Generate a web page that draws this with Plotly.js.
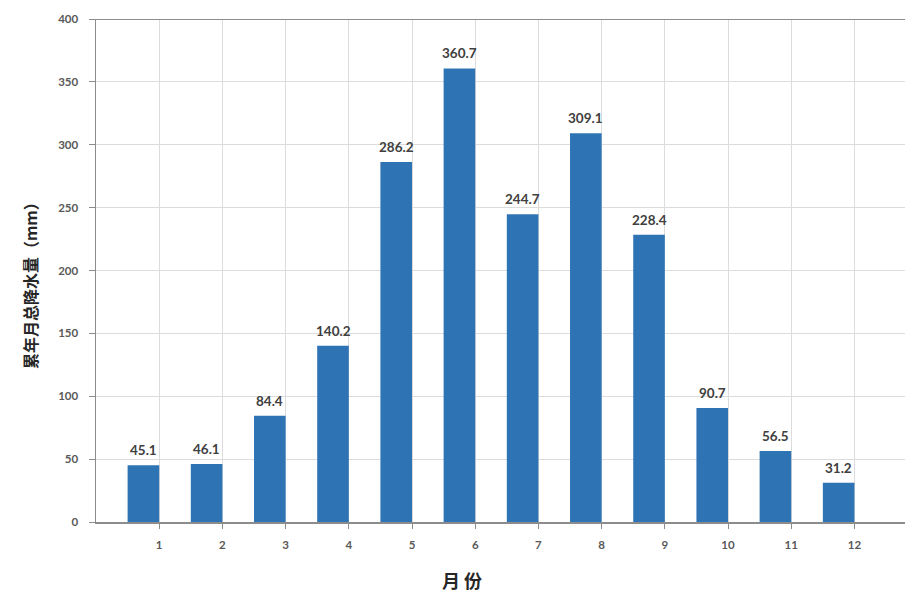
<!DOCTYPE html>
<html>
<head>
<meta charset="utf-8">
<script src="https://cdn.plot.ly/plotly-3.0.1.min.js"></script>
<style>html,body{margin:0;padding:0;background:#fff;}#chart{width:905px;height:595px;}</style>
</head>
<body>
<div id="chart"></div>
<script>
const months = [1,2,3,4,5,6,7,8,9,10,11,12];
const precip = [45.1,46.1,84.4,140.2,286.2,360.7,244.7,309.1,228.4,90.7,56.5,31.2];
const yTicks = [0,50,100,150,200,250,300,350,400];
const xTitle = "月 份";
const yTitle = "累年月总降水量（mm）";

const barX = months.map(m => m - 0.25);

const trace = {
  type: 'bar',
  x: barX,
  y: precip,
  width: 0.5,
  marker: {color: '#2e74b5', line: {width: 0}},
  hoverinfo: 'skip'
};

const labelAnns = months.map((m, i) => ({
  x: barX[i], y: precip[i], xref: 'x', yref: 'y',
  text: precip[i].toFixed(1), showarrow: false,
  yanchor: 'bottom', yshift: 5,
  font: {family: 'Lato, "Open Sans", sans-serif', size: 13.5, color: '#404040', weight: 'bold'}
}));

const layout = {
  width: 905, height: 595,
  margin: {l: 96, r: 0, t: 19, b: 73},
  paper_bgcolor: '#fff', plot_bgcolor: '#fff',
  showlegend: false,
  font: {family: 'Lato, "Open Sans", sans-serif', size: 11, color: '#595959'},
  xaxis: {
    range: [0, 12.8], tickvals: months, ticktext: months.map(String),
    showgrid: true, gridcolor: '#dcdcdc', gridwidth: 1,
    showline: true, linecolor: '#8c8c8c', linewidth: 1.5,
    ticks: 'outside', ticklen: 5, tickcolor: '#8c8c8c', ticklabelstandoff: 7,
    zeroline: false, fixedrange: true,
    tickfont: {size: 11.5, color: '#595959', weight: 'bold'}
  },
  yaxis: {
    range: [0, 400], tickvals: yTicks,
    showgrid: true, gridcolor: '#dcdcdc', gridwidth: 1,
    showline: true, linecolor: '#8c8c8c', linewidth: 1.5,
    ticks: 'outside', ticklen: 6, tickcolor: '#8c8c8c', ticklabelstandoff: 8,
    zeroline: false, fixedrange: true,
    tickfont: {size: 11.5, color: '#595959', weight: 'bold'}
  },
  shapes: [
    {type: 'line', xref: 'paper', yref: 'y', x0: 0, x1: 1, y0: 400, y1: 400,
     line: {color: '#8c8c8c', width: 2}}
  ],
  annotations: labelAnns.concat([
    {xref: 'paper', yref: 'paper', x: 0.452, y: 0, yshift: -58, yanchor: 'middle',
     text: xTitle, showarrow: false,
     font: {family: '"Noto Sans CJK SC", sans-serif', size: 18, color: '#262626', weight: 'bold'}},
    {xref: 'paper', yref: 'paper', x: 0, xshift: -80, y: 0.477, textangle: -90,
     text: yTitle, showarrow: false,
     font: {family: '"Noto Sans CJK SC", sans-serif', size: 16, color: '#262626', weight: 'bold'}}
  ])
};

Plotly.newPlot('chart', [trace], layout, {displayModeBar: false, staticPlot: true});
</script>
</body>
</html>
